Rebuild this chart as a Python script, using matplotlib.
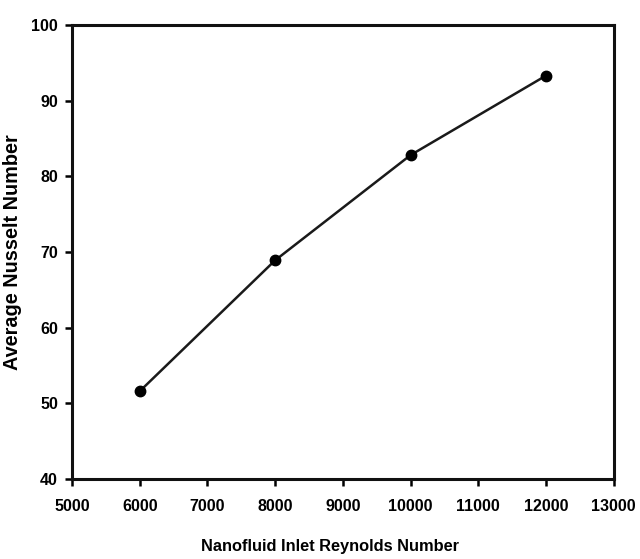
import matplotlib
matplotlib.use("Agg")
import matplotlib.pyplot as plt

# values
reynolds = [6000, 8000, 10000, 12000]
nusselt = [51.6, 68.9, 82.8, 93.3]
xticks = [5000, 6000, 7000, 8000, 9000, 10000, 11000, 12000, 13000]
yticks = [40, 50, 60, 70, 80, 90, 100]

plt.rcParams['font.family'] = ['Liberation Sans', 'DejaVu Sans']
plt.rcParams['font.weight'] = 'bold'

fig = plt.figure(figsize=(6.4, 5.59), dpi=100)
ax = fig.add_axes([0.1125, 0.143, 0.8465, 0.8125])

ax.plot(reynolds, nusselt, color='#1a1a1a', linewidth=1.8,
        marker='o', markersize=7.5, markerfacecolor='black', markeredgecolor='black')

ax.set_xlim(5000, 13000)
ax.set_ylim(40, 100)
ax.set_xticks(xticks)
ax.set_yticks(yticks)
ax.tick_params(direction='out', length=5, width=1.8, labelsize=11.5,
               top=False, right=False)
ax.tick_params(axis='x', pad=9)
ax.tick_params(axis='y', pad=5)
for lab in ax.get_xticklabels() + ax.get_yticklabels():
    lab.set_fontweight('bold')
for s in ax.spines.values():
    s.set_linewidth(2.2)
    s.set_color('#111111')

ax.set_xlabel('Nanofluid Inlet Reynolds Number', fontsize=11.8, fontweight='bold', labelpad=18)
ax.xaxis.label.set_x(0.476)
ax.set_ylabel('Average Nusselt Number', fontsize=14.3, fontweight='bold', labelpad=7)

fig.savefig('out.png', dpi=100)
